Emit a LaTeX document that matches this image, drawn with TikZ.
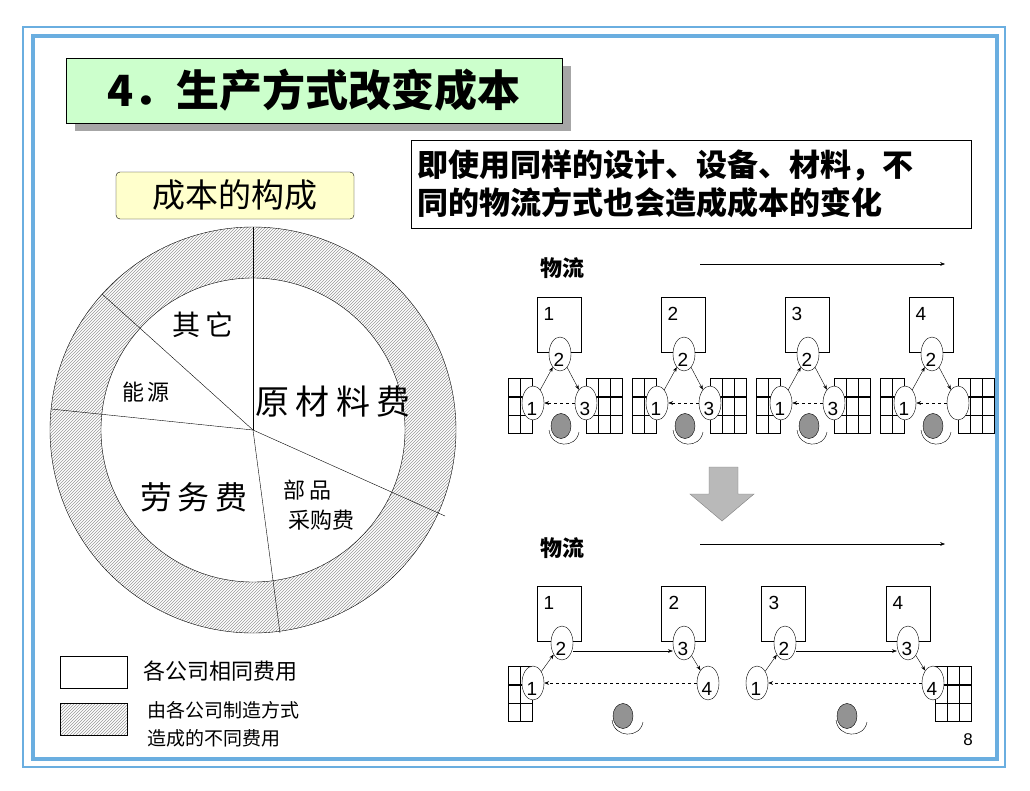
\documentclass[tikz,border=0pt]{standalone}
\usepackage{fontspec}
\setmainfont{Noto Sans CJK SC}
\newfontfamily\wide[LetterSpace=18]{Noto Sans CJK SC}
\newfontfamily\num{Liberation Sans}
\usepackage{tikz}
\usetikzlibrary{shapes,positioning,patterns,arrows.meta}
\definecolor{frameblue}{HTML}{6AAEE0}
\definecolor{titlegreen}{HTML}{CCFFCC}
\definecolor{subyellow}{HTML}{FFFFCC}
\newcommand\digitfont{\num\fontsize{19}{19}\selectfont}
\tikzset{ell/.style={ellipse,draw,fill=white,minimum width=22,minimum height=34,inner sep=0},
  lbl/.style={label={[xshift=-1pt,yshift=-6pt,font=\digitfont]center:#1}},
  mach/.style={draw,fill=white,minimum width=44,minimum height=55,inner sep=0},
  part/.style={ellipse,draw,fill=gray!85,minimum width=20,minimum height=25,inner sep=0},
  tag/.style={anchor=north west,font=\digitfont},
  hatch/.style={pattern=north east lines,pattern color=gray!80}}

\begin{document}
\begin{tikzpicture}[x=1pt,y=-1pt,>=Stealth]
    \useasboundingbox (0,0) rectangle (1030,790);
    \fill[white] (0,0) rectangle (1030,790);
    \draw[frameblue,line width=2] (23,27) rectangle (1005,767);
    \draw[frameblue,line width=4] (33,36) rectangle (997,759);

    % title
    \fill[gray!70] (75,66) rectangle (571,131);
    \node[draw,fill=titlegreen,minimum width=496,minimum height=65,inner sep=0,font=\bfseries\fontsize{43}{43}\selectfont] (title) at (314,90.5) {4．生产方式改变成本};
    \node[draw,rounded corners=4,fill=subyellow,minimum width=238,minimum height=47,inner sep=0,font=\fontsize{33}{33}\selectfont] (sub) at (235,195.5) {成本的构成};
    \node[draw,text width=548,minimum height=88,align=left,inner xsep=6,inner ysep=0,font=\bfseries\fontsize{31}{38}\selectfont] (note) at (691,184) {即使用同样的设计、设备、材料，不\\同的物流方式也会造成成本的变化};

    % cost ring
    \coordinate (c) at (253,430);
    \fill[hatch,even odd rule] (c) circle (203) (c) circle (152);
    \draw (c) circle (203) (c) circle (152);
    \draw (c) -- (253,227);
    \draw (c) -- (102,294);
    \draw (c) -- (51,409);
    \draw (c) -- (280,633);
    \draw (c) -- (445,516);
    \node[font=\fontsize{28}{28}\selectfont] (other) at (203,325) {其\,它};
    \node[font=\fontsize{22}{22}\selectfont] (energy) at (146,392) {能\,源};
    \node[font=\wide\fontsize{34}{34}\selectfont] (raw) at (333,402) {原材料费};
    \node[font=\wide\fontsize{32}{32}\selectfont] (labour) at (194,497) {劳务费};
    \node[align=left,font=\fontsize{22}{30}\selectfont] (parts) at (319,505) {部\,品\\\ 采购费};

    % legend
    \node[draw,minimum width=67,minimum height=32,inner sep=0] (same) at (93.5,672) {};
    \node[draw,hatch,minimum width=67,minimum height=32,inner sep=0] (diff) at (93.5,719) {};
    \node[anchor=west,font=\fontsize{22}{22}\selectfont] (sametxt) at (140,671) {各公司相同费用};
    \node[anchor=west,align=left,font=\fontsize{19}{28}\selectfont] (difftxt) at (144,724) {由各公司制造方式\\造成的不同费用};

    % flow, before
    \node[font=\bfseries\fontsize{22}{22}\selectfont] (flowa) at (562,268) {物流};
    \coordinate (fa1) at (700,264);
    \coordinate (fa2) at (945,264);
    \draw[->] (fa1) -- (fa2);
    \foreach \k/\dx/\rt in {1/0/3,2/124/3,3/248/3,4/372/{}} {
      \begin{scope}[xshift=\dx]
        \foreach \cx in {508,520,586,598,610} \foreach \cy in {378,397,415}
          \draw (\cx,\cy) rectangle ++(12,18.5);
        \node[mach] (box\k) at (559,324.5) {};
        \node[tag] at (540,304) {\k};
        \node[ell,lbl=2] (b\k) at (560,354) {};
        \node[ell,lbl=1] (l\k) at (533,403) {};
        \node[ell,lbl=\rt] (r\k) at (586,403) {};
        \node[part] (g\k) at (561,426) {};
        \draw (549,430) .. controls (551,448) and (576,449) .. (579,432);
      \end{scope}
      \draw[->] (l\k) -- (b\k);
      \draw[->] (b\k) -- (r\k);
      \draw[->,dashed] (r\k) -- (l\k);
    }

    % big arrow
    \fill[gray!55,draw=gray] (709,467) -- (738,467) -- (738,494) -- (754,494) -- (722,521) -- (690,494) -- (709,494) -- cycle;

    % flow, after
    \node[font=\bfseries\fontsize{22}{22}\selectfont] (flowb) at (562,548) {物流};
    \coordinate (fb1) at (700,544);
    \coordinate (fb2) at (945,544);
    \draw[->] (fb1) -- (fb2);
    \foreach \cx in {508,520} \foreach \cy in {666,685,703}
      \draw (\cx,\cy) rectangle ++(12,18.5);
    \foreach \cx in {935,947,959} \foreach \cy in {666,685,703}
      \draw (\cx,\cy) rectangle ++(11.7,18.5);
    \node[mach] (m1) at (559,613.5) {};
    \node[tag] at (540,593) {1};
    \node[mach] (m2) at (683.5,613.5) {};
    \node[tag] at (665,593) {2};
    \node[mach] (m3) at (783.5,613.5) {};
    \node[tag] at (765,593) {3};
    \node[mach] (m4) at (908,613.5) {};
    \node[tag] at (889,593) {4};
    \node[ell,lbl=2] (p2) at (562,643) {};
    \node[ell,lbl=3] (p3) at (684,643) {};
    \node[ell,lbl=4] (p4) at (708,683) {};
    \node[ell,lbl=1] (p1) at (533,683) {};
    \node[ell,lbl=2] (q2) at (785,643) {};
    \node[ell,lbl=3] (q3) at (908,643) {};
    \node[ell,lbl=4] (q4) at (933,683) {};
    \node[ell,lbl=1] (q1) at (757,683) {};
    \draw[->] (p1) -- (p2);
    \draw[->] ([yshift=-8pt]p2.east) -- ([yshift=-8pt]p3.west);
    \draw[->] (p3) -- (p4);
    \draw[->,dashed] (p4) -- (p1);
    \draw[->] (q1) -- (q2);
    \draw[->] ([yshift=-8pt]q2.east) -- ([yshift=-8pt]q3.west);
    \draw[->] (q3) -- (q4);
    \draw[->,dashed] (q4) -- (q1);
    \node[part] (ga) at (623,716) {};
    \draw (612,720) .. controls (614,738) and (640,739) .. (643,722);
    \node[part] (gb) at (847,716) {};
    \draw (836,720) .. controls (838,738) and (864,739) .. (867,722);

    \node[font=\num\fontsize{17}{17}\selectfont] (page) at (968,740) {8};
\end{tikzpicture}
\end{document}
